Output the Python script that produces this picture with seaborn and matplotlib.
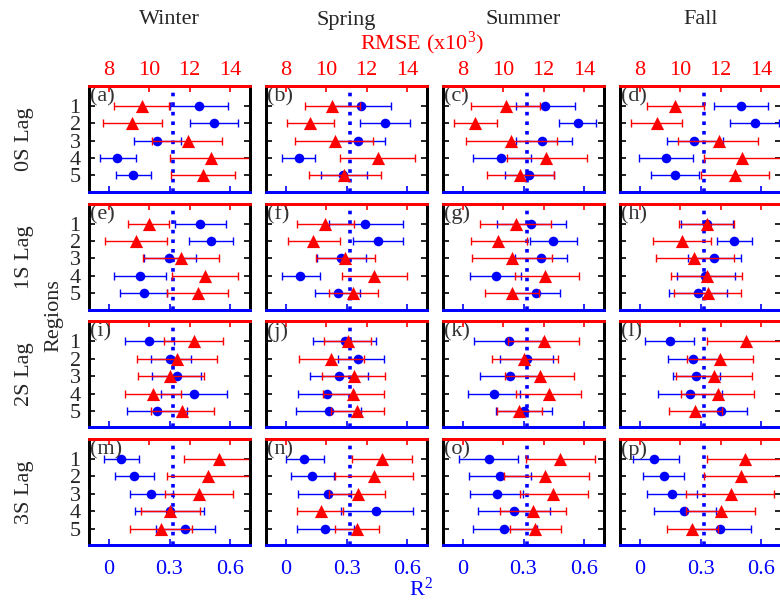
"""Seasonal R2 / RMSE by region and lag"""
import seaborn as sns
import matplotlib.pyplot as plt
import pandas as pd

seasons = ['Winter', 'Spring', 'Summer', 'Fall']
lags = ['0S Lag', '1S Lag', '2S Lag', '3S Lag']
regions = [1, 2, 3, 4, 5]
letters = 'abcdefghijklmnop'

# R2 (blue) -- [lag][season] -> regions 1..5
r2 = [
    [[0.447, 0.522, 0.240, 0.038, 0.119], [0.373, 0.493, 0.359, 0.063, 0.281],
     [0.409, 0.571, 0.394, 0.190, 0.328], [0.500, 0.571, 0.270, 0.127, 0.171]],
    [[0.452, 0.505, 0.298, 0.152, 0.174], [0.394, 0.455, 0.273, 0.071, 0.257],
     [0.339, 0.447, 0.389, 0.161, 0.361], [0.334, 0.467, 0.369, 0.323, 0.286]],
    [[0.199, 0.303, 0.339, 0.422, 0.237], [0.293, 0.359, 0.265, 0.204, 0.212],
     [0.227, 0.315, 0.232, 0.152, 0.303], [0.146, 0.262, 0.278, 0.248, 0.402]],
    [[0.061, 0.124, 0.207, 0.303, 0.377], [0.091, 0.129, 0.207, 0.447, 0.195],
     [0.127, 0.182, 0.169, 0.253, 0.204], [0.070, 0.119, 0.157, 0.220, 0.397]],
]
r2_lo = [
    [[0.303, 0.402, 0.124, -0.046, 0.033], [0.227, 0.369, 0.243, -0.022, 0.171],
     [0.262, 0.475, 0.265, 0.050, 0.207], [0.368, 0.447, 0.132, -0.005, 0.053]],
    [[0.326, 0.397, 0.171, 0.022, 0.053], [0.212, 0.334, 0.154, -0.020, 0.144],
     [0.166, 0.334, 0.257, 0.036, 0.243], [0.204, 0.381, 0.240, 0.182, 0.141]],
    [[0.081, 0.210, 0.215, 0.260, 0.091], [0.136, 0.257, 0.121, 0.058, 0.050],
     [0.055, 0.185, 0.083, 0.022, 0.161], [0.022, 0.137, 0.162, 0.088, 0.273]],
    [[-0.025, 0.028, 0.103, 0.127, 0.232], [-0.003, 0.025, 0.058, 0.273, 0.053],
     [-0.020, 0.028, 0.036, 0.075, 0.050], [-0.033, 0.013, 0.033, 0.070, 0.253]],
]
r2_hi = [
    [[0.591, 0.641, 0.359, 0.132, 0.207], [0.522, 0.618, 0.493, 0.144, 0.401],
     [0.558, 0.662, 0.543, 0.336, 0.452], [0.634, 0.690, 0.414, 0.262, 0.295]],
    [[0.583, 0.618, 0.430, 0.285, 0.290], [0.579, 0.579, 0.397, 0.169, 0.369],
     [0.513, 0.568, 0.517, 0.286, 0.483], [0.460, 0.555, 0.500, 0.469, 0.434]],
    [[0.320, 0.406, 0.459, 0.584, 0.386], [0.447, 0.488, 0.409, 0.339, 0.373],
     [0.397, 0.447, 0.381, 0.281, 0.444], [0.268, 0.392, 0.397, 0.409, 0.530]],
    [[0.149, 0.224, 0.315, 0.469, 0.525], [0.187, 0.240, 0.320, 0.629, 0.336],
     [0.273, 0.336, 0.298, 0.430, 0.368], [0.194, 0.220, 0.281, 0.376, 0.551]],
]

# RMSE x10^3 (red)
rmse = [
    [[9.61, 9.16, 11.92, 13.08, 12.67], [10.28, 9.21, 10.43, 12.59, 10.90],
     [10.12, 8.61, 10.40, 12.14, 10.81], [9.74, 8.83, 11.92, 13.08, 12.69]],
    [[9.99, 9.32, 11.56, 12.77, 12.44], [9.95, 9.36, 10.93, 12.39, 11.34],
     [10.62, 9.74, 10.45, 12.09, 10.45], [11.31, 10.07, 10.68, 11.31, 11.39]],
    [[12.22, 11.36, 11.03, 10.19, 11.64], [11.06, 10.24, 11.36, 11.31, 11.53],
     [12.02, 11.03, 11.81, 12.25, 10.76], [13.26, 11.97, 11.68, 11.86, 10.73]],
    [[13.46, 12.93, 12.47, 11.03, 10.60], [12.75, 12.39, 11.56, 9.71, 11.53],
     [12.83, 12.09, 12.47, 11.48, 11.59], [13.21, 13.00, 12.50, 12.02, 10.60]],
]
rmse_lo = [
    [[8.22, 7.70, 10.15, 11.03, 11.06], [8.96, 8.03, 8.45, 10.70, 9.13],
     [8.41, 7.54, 8.12, 10.19, 9.19], [8.33, 7.54, 9.90, 11.15, 11.03]],
    [[8.96, 7.78, 9.66, 11.10, 10.90], [8.53, 8.08, 9.46, 10.76, 10.12],
     [8.86, 8.38, 8.46, 10.57, 9.08], [9.95, 8.66, 8.78, 9.52, 9.70]],
    [[10.73, 9.37, 9.41, 8.81, 10.10], [9.87, 8.66, 9.77, 9.82, 10.24],
     [10.24, 9.41, 10.07, 10.65, 9.66], [11.31, 10.31, 9.77, 10.04, 9.44]],
    [[11.73, 10.86, 10.78, 9.57, 9.03], [11.26, 10.43, 10.15, 8.55, 10.43],
     [11.10, 10.04, 10.81, 9.82, 10.32], [11.34, 11.15, 10.28, 10.28, 9.32]],
]
rmse_hi = [
    [[10.98, 10.62, 13.63, 15.0, 14.26], [11.68, 10.40, 12.30, 14.42, 12.72],
     [11.81, 9.66, 12.64, 14.16, 12.52], [11.15, 10.10, 13.84, 15.2, 14.41]],
    [[10.98, 10.86, 13.46, 14.42, 13.93], [11.39, 10.68, 12.42, 13.99, 12.55],
     [12.39, 11.15, 12.42, 13.76, 11.77], [12.64, 11.53, 12.64, 13.08, 13.02]],
    [[13.66, 13.35, 12.69, 11.56, 13.22], [12.22, 11.89, 12.92, 12.88, 12.85],
     [13.76, 12.69, 13.50, 13.88, 11.94], [15.2, 13.63, 13.58, 13.68, 12.06]],
    [[15.0, 15.0, 14.18, 12.52, 12.14], [14.26, 14.32, 12.93, 10.81, 12.60],
     [14.54, 14.24, 14.21, 13.13, 12.88], [15.2, 15.2, 14.67, 13.71, 11.86]],
]

threshold = 0.315

sns.set_style('white')
plt.rcParams['font.family'] = ['Liberation Serif', 'DejaVu Serif']
plt.rcParams['mathtext.fontset'] = 'custom'
plt.rcParams['mathtext.rm'] = 'Liberation Serif'
plt.rcParams['mathtext.it'] = 'Liberation Serif:italic'
plt.rcParams['font.size'] = 16

W, H = 780, 602
fig = plt.figure(figsize=(W / 100, H / 100), dpi=100)

BLUE = '#0000ff'
RED = '#ff0000'
TXT = '#262626'

for i in range(4):
    for j in range(4):
        left = 89 + 177 * j
        top = 86 + 117.7 * i
        ax = fig.add_axes([left / W, 1 - (top + 106) / H, 161 / W, 106 / H])
        ax2 = ax.twiny()

        df = pd.DataFrame({
            'region': regions,
            'r2': r2[i][j], 'r2_lo': r2_lo[i][j], 'r2_hi': r2_hi[i][j],
            'rmse': rmse[i][j], 'rmse_lo': rmse_lo[i][j], 'rmse_hi': rmse_hi[i][j],
        })

        # blue R2 on bottom axis
        ax.errorbar(df['r2'], df['region'],
                    xerr=[df['r2'] - df['r2_lo'], df['r2_hi'] - df['r2']],
                    fmt='none', ecolor=BLUE, elinewidth=1.0, capsize=2.8, capthick=1.0)
        sns.scatterplot(data=df, x='r2', y='region', ax=ax, color=BLUE,
                        marker='o', s=48, linewidth=0, zorder=3, legend=False)
        ax.axvline(threshold, color=BLUE, ls=':', lw=2.6, zorder=4)

        # red RMSE on top axis
        ax2.errorbar(df['rmse'], df['region'],
                     xerr=[df['rmse'] - df['rmse_lo'], df['rmse_hi'] - df['rmse']],
                     fmt='none', ecolor=RED, elinewidth=1.0, capsize=2.8, capthick=1.0)
        sns.scatterplot(data=df, x='rmse', y='region', ax=ax2, color=RED,
                        marker='^', s=90, linewidth=0, zorder=3, legend=False)

        ax.set_xlim(-0.1, 0.7)
        ax2.set_xlim(7, 15)
        ax.set_ylim(5.95, -0.15)
        ax.set_xticks([0, 0.3, 0.6])
        ax.set_xticklabels(['0', '0.3', '0.6'] if i == 3 else [])
        ax2.set_xticks([8, 10, 12, 14])
        ax2.set_xticklabels(['8', '10', '12', '14'] if i == 0 else [])
        ax.set_yticks(regions)
        ax.set_yticklabels([str(r) for r in regions] if j == 0 else [])
        ax.set_xlabel('')
        ax.set_ylabel('')
        ax2.set_xlabel('')
        ax2.set_ylabel('')

        ax.tick_params(axis='x', bottom=True, direction='in', length=4, width=1.2,
                       color=BLUE, labelcolor=BLUE, labelsize=16, pad=11)
        ax.tick_params(axis='y', left=True, right=True, direction='in', length=4,
                       width=1.2, color='black', labelcolor=TXT, labelsize=16, pad=6)
        ax2.tick_params(axis='x', top=True, direction='in', length=4, width=1.2,
                        color=RED, labelcolor=RED, labelsize=16, pad=4.5)

        for a in (ax, ax2):
            a.spines['top'].set_color(RED)
            a.spines['bottom'].set_color(BLUE)
            a.spines['left'].set_color('black')
            a.spines['right'].set_color('black')
            for s in a.spines.values():
                s.set_linewidth(2)

        ax2.text(0.005, 0.99, '(%s)' % letters[i * 4 + j], transform=ax.transAxes,
                 ha='left', va='top', fontsize=16, color='#333333', zorder=1)

        if i == 0:
            fig.text((left + 80.5) / W, 1 - 20 / H, seasons[j], ha='center',
                     va='center', fontsize=16, color=TXT)
    fig.text(25 / W, 1 - (86 + 117.7 * i + 53) / H, lags[i], rotation=90,
             ha='center', va='center', fontsize=16, color=TXT)

fig.text(54 / W, 1 - 315.5 / H, 'Regions', rotation=90, ha='center', va='center',
         fontsize=16, color=TXT)
fig.text(422 / W, 1 - 43 / H, 'RMSE (x10$^3$)', ha='center', va='center',
         fontsize=16, color=RED)
fig.text(421 / W, 1 - 589 / H, 'R$^2$', ha='center', va='center',
         fontsize=16, color=BLUE)

fig.savefig('out.png', dpi=100)
